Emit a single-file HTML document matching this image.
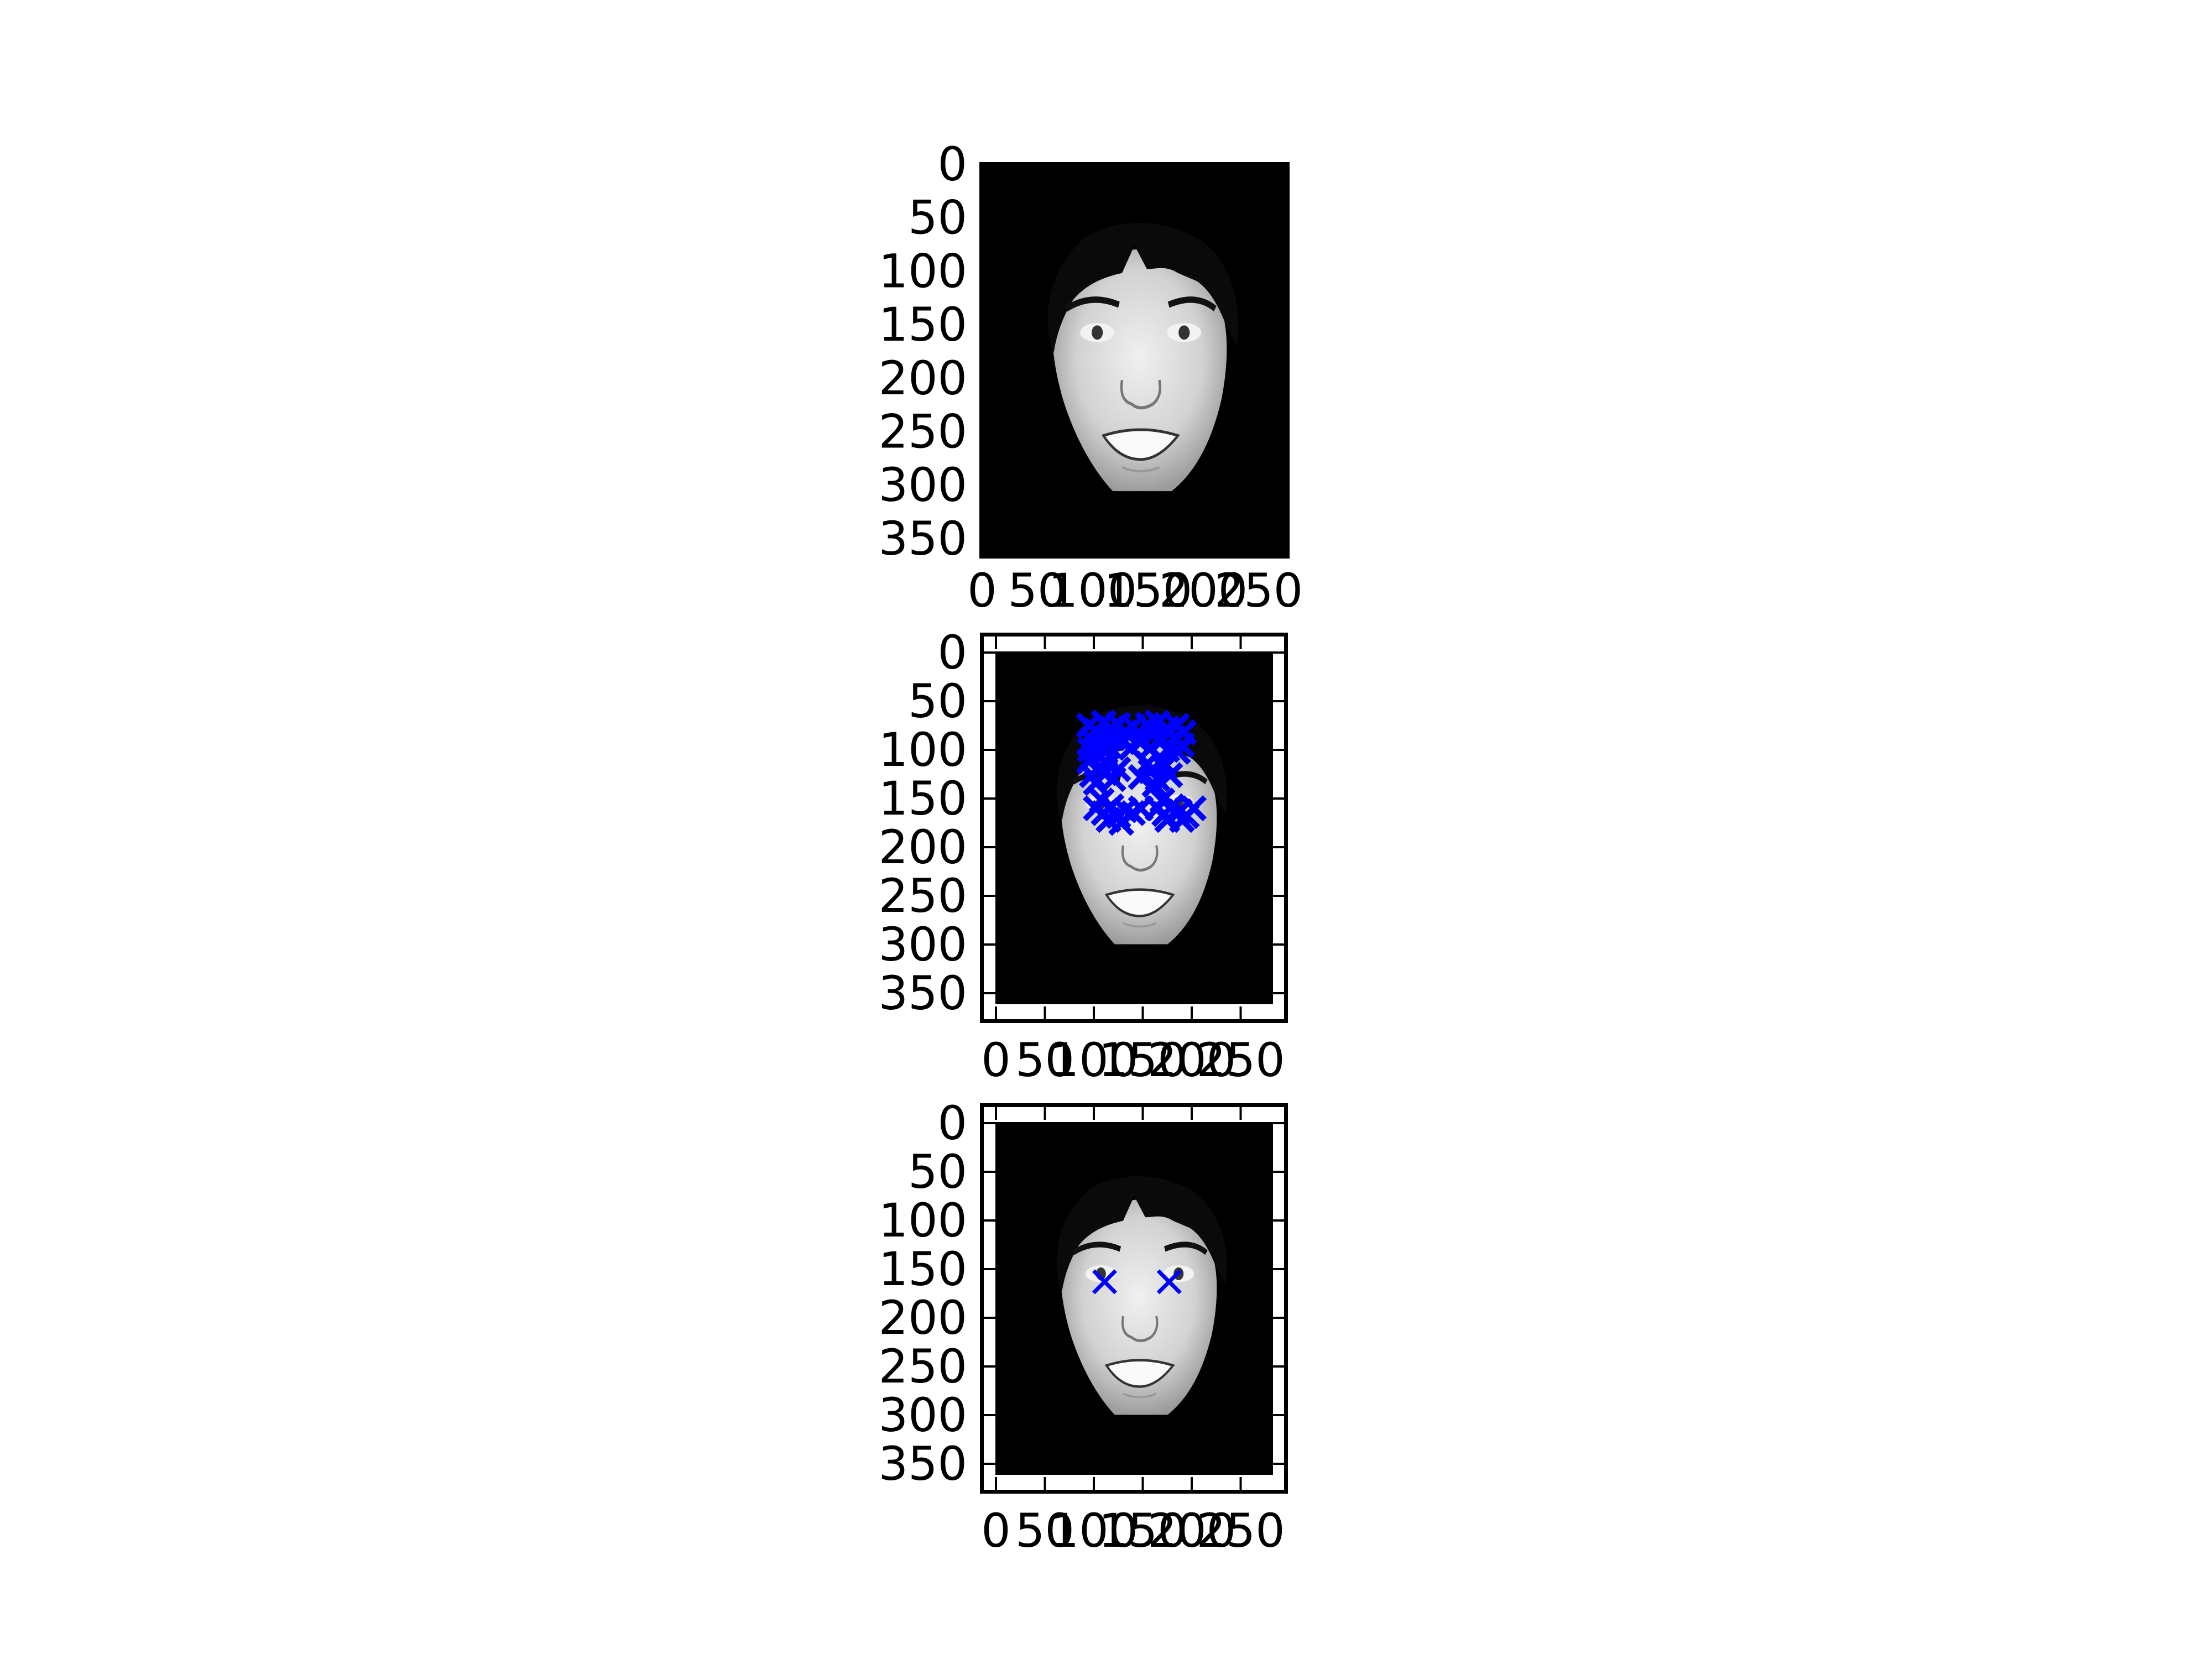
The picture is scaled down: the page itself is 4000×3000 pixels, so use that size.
<!DOCTYPE html>
<html><head><meta charset="utf-8">
<style>
html,body{margin:0;padding:0;background:#fff;}
svg{display:block;}
text{font-family:"DejaVu Sans","Liberation Sans",sans-serif;font-size:84px;fill:#000;}
</style></head>
<body>
<svg id="fig" width="4000" height="3000" viewBox="0 0 4000 3000" xmlns="http://www.w3.org/2000/svg">
<defs>
<radialGradient id="skin" cx="50%" cy="45%" r="60%">
<stop offset="0%" stop-color="#f0f0f0"/><stop offset="60%" stop-color="#d2d2d2"/><stop offset="100%" stop-color="#909090"/>
</radialGradient>
<symbol id="face" viewBox="0 0 100 100" preserveAspectRatio="none">
<rect x="0" y="0" width="100" height="100" fill="#000"/>
<path d="M52,22 C62,22 72,27 77,35 C81,42 80,52 78,60 C75,70 70,78 62,83 L43,83 C37,78 31,70 27,60 C24,52 22,42 25,35 C30,27 42,22 52,22 Z" fill="url(#skin)"/>
<path d="M23,46 C20,36 24,26 34,19 C44,14 60,14 72,20 C80,25 85,34 83,46 L80,42 C77,36 74,32 70,30 L64,28 C60,26 57,27 54,27 L50,21 L46,28 C40,29 34,31 30,35 C27,39 25,43 24,48 Z" fill="#0a0a0a"/>
<path d="M28,37 Q36,33 45,36" stroke="#111" stroke-width="1.6" fill="none"/>
<path d="M61,36 Q70,33 76,37" stroke="#111" stroke-width="1.6" fill="none"/>
<ellipse cx="38" cy="43" rx="5.5" ry="2.4" fill="#f2f2f2"/><circle cx="38" cy="43" r="1.8" fill="#333"/>
<ellipse cx="66" cy="43" rx="5.5" ry="2.4" fill="#f2f2f2"/><circle cx="66" cy="43" r="1.8" fill="#333"/>
<path d="M46,55 Q45,60 49,61 Q52,63 56,61 Q59,59 58,55" stroke="#777" stroke-width="0.8" fill="none"/>
<path d="M40,69 Q52,66 64,69 Q58,75 52,75 Q45,75 40,69 Z" fill="#fafafa" stroke="#333" stroke-width="0.7"/>
<path d="M46,77 Q52,79 58,77" stroke="#999" stroke-width="0.6" fill="none"/>
</symbol>
</defs>
<g id="plots"></g>
</svg>
<script>
// ---- data ----
const xTicks = [0, 50, 100, 150, 200, 250];
const yTicks = [0, 50, 100, 150, 200, 250, 300, 350];
const allX = [95,102,110,118,125,132,140,98,108,120,130,96,112,138,145,105,
 155,165,175,185,192,160,170,182,190,158,175,186,150,
 95,105,98,112,120,102,115,125,
 148,158,165,172,178,162,170,155,
 102,110,118,125,132,140,148,115,128,108,
 165,172,180,188,195,202,175,190,170];
const allY = [75,80,72,78,74,82,76,90,95,88,92,100,102,98,90,84,
 74,72,78,75,82,85,90,88,95,98,100,102,90,
 112,118,126,124,130,134,115,120,
 128,122,130,118,126,136,112,114,
 160,165,158,168,162,165,160,172,175,152,
 160,166,158,163,168,160,172,172,152];
const eyeX = [111, 177];
const eyeY = [163, 163];

const NS = 'http://www.w3.org/2000/svg';
const root = document.getElementById('plots');
function mk(tag, attrs, parent){
  const e = document.createElementNS(NS, tag);
  for (const k in attrs) e.setAttribute(k, attrs[k]);
  (parent||root).appendChild(e);
  return e;
}

const panels = [
  {name:'original', x0:1776, y0:297, sx:2.0, sy:1.934, img:[1771,293,2332,1010], frame:null, labY:1068, xs:[], ys:[]},
  {name:'candidates', x0:1801, y0:1180, sx:1.77, sy:1.76, img:[1800,1178,2302,1816], frame:[1772,1144,2329,1850], labY:1917, xs:allX, ys:allY},
  {name:'eyes', x0:1801, y0:2031, sx:1.77, sy:1.76, img:[1800,2029,2302,2667], frame:[1772,1995,2329,2701], labY:2768, xs:eyeX, ys:eyeY}
];

panels.forEach((p, pi) => {
  const g = mk('g', {});
  
  
  const xS = v => p.x0 + v * p.sx;
  const yS = v => p.y0 + v * p.sy;
  const im = mk('use', {href:'#face', x:p.img[0], y:p.img[1], width:p.img[2]-p.img[0], height:p.img[3]-p.img[1]}, g);
  
  
  if (p.frame) {
    const f = p.frame;
    const fr = mk('rect', {x:f[0]+3.5, y:f[1]+3.5, width:f[2]-f[0]-7, height:f[3]-f[1]-7, fill:'none', stroke:'#000', 'stroke-width':7}, g);
    
    
    xTicks.forEach(t => {
      const x = xS(t);
      mk('line', {x1:x, x2:x, y1:f[1]+7, y2:f[1]+30, stroke:'#000', 'stroke-width':4}, g);
      mk('line', {x1:x, x2:x, y1:f[3]-7, y2:f[3]-30, stroke:'#000', 'stroke-width':4}, g);
    });
    yTicks.forEach(t => {
      const y = yS(t);
      mk('line', {x1:f[0]+7, x2:f[0]+30, y1:y, y2:y, stroke:'#000', 'stroke-width':4}, g);
      mk('line', {x1:f[2]-7, x2:f[2]-30, y1:y, y2:y, stroke:'#000', 'stroke-width':4}, g);
    });
  }
  xTicks.forEach(t => {
    const tx = mk('text', {x:xS(t), y:p.labY, 'text-anchor':'middle', 'dominant-baseline':'central'}, g);
    
    
    tx.textContent = t;
  });
  yTicks.forEach(t => {
    const ty = mk('text', {x:1749, y:yS(t), 'text-anchor':'end', 'dominant-baseline':'central'}, g);
    
    
    ty.textContent = t;
  });
  const h = 20, sw = pi === 1 ? 10 : 7;
  for (let i = 0; i < p.xs.length; i++) {
    const cx = xS(p.xs[i]), cy = yS(p.ys[i]);
    const m = mk('path', {d:`M${cx-h},${cy-h}L${cx+h},${cy+h}M${cx-h},${cy+h}L${cx+h},${cy-h}`, stroke:'#0000ff', 'stroke-width':sw, fill:'none'}, g);
    
    
  }
});
</script>
</body></html>
